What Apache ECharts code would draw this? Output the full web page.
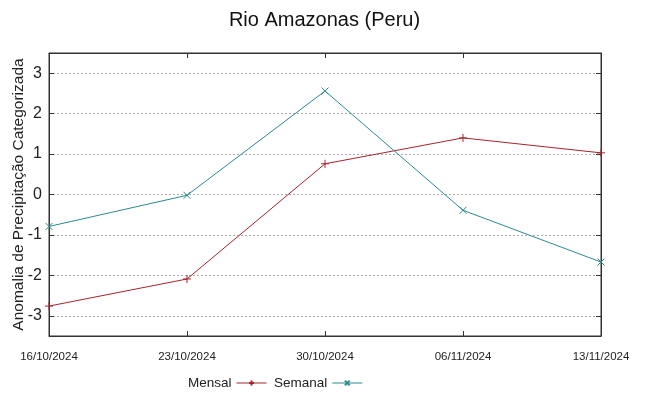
<!DOCTYPE html>
<html><head><meta charset="utf-8">
<script src="https://cdn.jsdelivr.net/npm/echarts@6/dist/echarts.min.js"></script>
<style>html,body{margin:0;padding:0;background:#fff}#c{width:649px;height:396px}</style>
</head><body><div id="c"></div>
<script>
var categories = ['16/10/2024','23/10/2024','30/10/2024','06/11/2024','13/11/2024'];
var mensal = [-2.76, -2.09, 0.76, 1.40, 1.03];
var semanal = [-0.79, -0.02, 2.56, -0.39, -1.67];
var yTicks = [-3,-2,-1,0,1,2,3];

var cRed = '#a3242c', cTeal = '#2b8a8c';
var plusPath = 'path://M0,5L10,5M5,0L5,10';
var crossPath = 'path://M0,0L10,10M0,10L10,0';
var chart = echarts.init(document.getElementById('c'));
var axisCol = '#333';
chart.setOption({
  animation: false,
  title: {text: 'Rio Amazonas (Peru)', left: 'center', top: 5,
    textStyle: {fontFamily: 'Liberation Sans', fontSize: 20, fontWeight: 'normal', color: '#111'}},
  grid: {left: 49, right: 48, top: 53, bottom: 60, show: true, borderColor: axisCol, borderWidth: 1,
    outerBoundsMode: 'none', containLabel: false},
  legend: {left: 183, top: 371, itemWidth: 30, itemHeight: 6, itemGap: 7, align: 'right',
    textStyle: {fontFamily: 'Liberation Sans', fontSize: 13.5, color: '#222'},
    lineStyle: {width: 1},
    data: ['Mensal', 'Semanal']},
  xAxis: [{type: 'category', data: categories, boundaryGap: false,
    axisLine: {onZero: false, lineStyle: {color: axisCol}},
    axisTick: {inside: true, length: 5, lineStyle: {color: axisCol}},
    axisLabel: {fontFamily: 'Liberation Sans', fontSize: 11.5, color: '#222', margin: 15, showMinLabel: true, showMaxLabel: true, hideOverlap: false},
    splitLine: {show: false}},
   {type: 'category', data: categories, boundaryGap: false, position: 'top',
    axisLine: {onZero: false, lineStyle: {color: axisCol}},
    axisTick: {inside: true, length: 5, lineStyle: {color: axisCol}},
    axisLabel: {show: false}, splitLine: {show: false}}],
  yAxis: [{type: 'value', min: -3.5, max: 3.5,
    name: 'Anomalia de Precipitação Categorizada', nameLocation: 'middle', nameGap: 22, nameMoveOverlap: false,
    nameTextStyle: {fontFamily: 'Liberation Sans', fontSize: 15.5, color: '#222', padding: [0, 0, 0, 0]},
    axisLine: {show: true, onZero: false, lineStyle: {color: axisCol}},
    axisTick: {show: true, inside: true, length: 5, customValues: yTicks, lineStyle: {color: axisCol}},
    axisLabel: {customValues: yTicks, fontFamily: 'Liberation Sans', fontSize: 16, color: '#222', margin: 7},
    splitLine: {show: true, lineStyle: {color: '#aaa', type: [2,2], width: 1}}},
   {type: 'value', min: -3.5, max: 3.5, position: 'right',
    axisLine: {show: true, onZero: false, lineStyle: {color: axisCol}},
    axisTick: {show: true, inside: true, length: 5, customValues: yTicks, lineStyle: {color: axisCol}},
    axisLabel: {show: false}, splitLine: {show: false}}],
  series: [
    {name: 'Mensal', type: 'line', data: mensal, symbol: plusPath, symbolSize: 8,
     lineStyle: {color: cRed, width: 1}, itemStyle: {color: cRed, borderColor: cRed, borderWidth: 1}},
    {name: 'Semanal', type: 'line', data: semanal, symbol: crossPath, symbolSize: 7,
     lineStyle: {color: cTeal, width: 1}, itemStyle: {color: cTeal, borderColor: cTeal, borderWidth: 1}}
  ]
});
</script></body></html>
